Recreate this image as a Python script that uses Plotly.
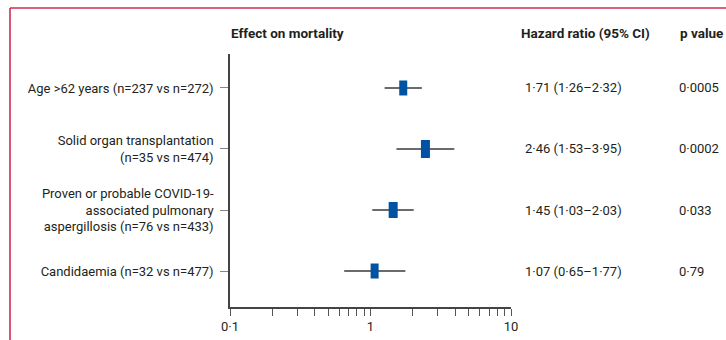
import plotly.graph_objects as go

categories = [
    "Age >62 years (n=237 vs n=272)",
    "Solid organ transplantation<br>(n=35 vs n=474)",
    "Proven or probable COVID-19-<br>associated pulmonary<br>aspergillosis (n=76 vs n=433)",
    "Candidaemia (n=32 vs n=477)",
]
hr = [1.71, 2.46, 1.45, 1.07]
ci_low = [1.26, 1.53, 1.03, 0.65]
ci_high = [2.32, 3.95, 2.03, 1.77]
hr_text = ["1·71 (1·26–2·32)", "2·46 (1·53–3·95)", "1·45 (1·03–2·03)", "1·07 (0·65–1·77)"]
p_text = ["0·0005", "0·0002", "0·033", "0·79"]
box_height = [15, 18, 16, 15]
box_width = [8, 9, 9, 8]
row_pos = [4, 3, 2, 1]

major_ticks = [0.1, 1, 10]
major_labels = ["0·1", "1", "10"]
minor_ticks = [0.2, 0.3, 0.4, 0.5, 0.6, 0.7, 0.8, 0.9, 2, 3, 4, 5, 6, 7, 8, 9]

FONT = "Roboto, sans-serif"
TXT = "#231f20"
BLUE = "#0052a3"

fig = go.Figure()
fig.add_trace(go.Scatter(
    x=hr, y=row_pos, mode="markers",
    marker=dict(size=0.1, color="rgba(0,0,0,0)"),
    error_x=dict(type="data", symmetric=False,
                 array=[h - m for h, m in zip(ci_high, hr)],
                 arrayminus=[m - l for m, l in zip(hr, ci_low)],
                 width=0, thickness=1.6, color="#3a3a3a"),
    hoverinfo="skip", showlegend=False,
))
fig.add_trace(go.Scatter(
    x=hr, y=row_pos, mode="markers",
    marker=dict(symbol="line-ns", size=[h / 1.4 for h in box_height], opacity=1,
                line=dict(width=box_width, color=BLUE), color=BLUE),
    showlegend=False,
))

tickvals = major_ticks + minor_ticks
ticktext = major_labels + [""] * len(minor_ticks)

fig.update_xaxes(
    type="log", range=[-1, 1], tickvals=tickvals, ticktext=ticktext,
    ticks="outside", ticklen=7, tickwidth=1.3, tickcolor="#555",
    showline=True, linecolor="#444", linewidth=1.6, showgrid=False,
    zeroline=False, automargin=False, tickfont=dict(family=FONT, size=13, color=TXT),
)
fig.update_yaxes(
    range=[0.41, 4.557], tickvals=row_pos, ticktext=categories,
    ticks="outside", ticklen=8, tickwidth=1.3, tickcolor="#888",
    ticklabelstandoff=4, automargin=False,
    showline=True, linecolor="#444", linewidth=1.6, showgrid=False,
    zeroline=False, tickfont=dict(family=FONT, size=13, color=TXT),
)

ann = []
def px_x(p):
    return (p - 230) / 281
def px_y(p):
    return (307 - p) / 253

for txt, x in [("Effect on mortality", 229), ("Hazard ratio (95% CI)", 519), ("p value", 678)]:
    ann.append(dict(text="<b>" + txt + "</b>", x=px_x(x), y=px_y(33), xref="paper", yref="paper",
                    xanchor="left", yanchor="middle", showarrow=False,
                    font=dict(family=FONT, size=13.5, color=TXT)))
for y, t, p in zip(row_pos, hr_text, p_text):
    ann.append(dict(text=t, x=px_x(523), y=y, xref="paper", yref="y", xanchor="left",
                    yanchor="middle", showarrow=False, font=dict(family=FONT, size=13, color=TXT)))
    ann.append(dict(text=p, x=px_x(677), y=y, xref="paper", yref="y", xanchor="left",
                    yanchor="middle", showarrow=False, font=dict(family=FONT, size=13, color=TXT)))

border = "#cf2b55"
shapes = [
    dict(type="line", xref="paper", yref="paper", x0=px_x(10), x1=px_x(740), y0=px_y(8), y1=px_y(8),
         line=dict(color=border, width=1.6)),
    dict(type="line", xref="paper", yref="paper", x0=px_x(10), x1=px_x(10), y0=px_y(8), y1=px_y(345),
         line=dict(color=border, width=1.6)),
]

fig.update_layout(
    width=726, height=340, margin=dict(l=230, r=215, t=54, b=33, autoexpand=False),
    paper_bgcolor="white", plot_bgcolor="white",
    annotations=ann, shapes=shapes, font=dict(family=FONT, color=TXT),
)
fig.write_html("out.html")
